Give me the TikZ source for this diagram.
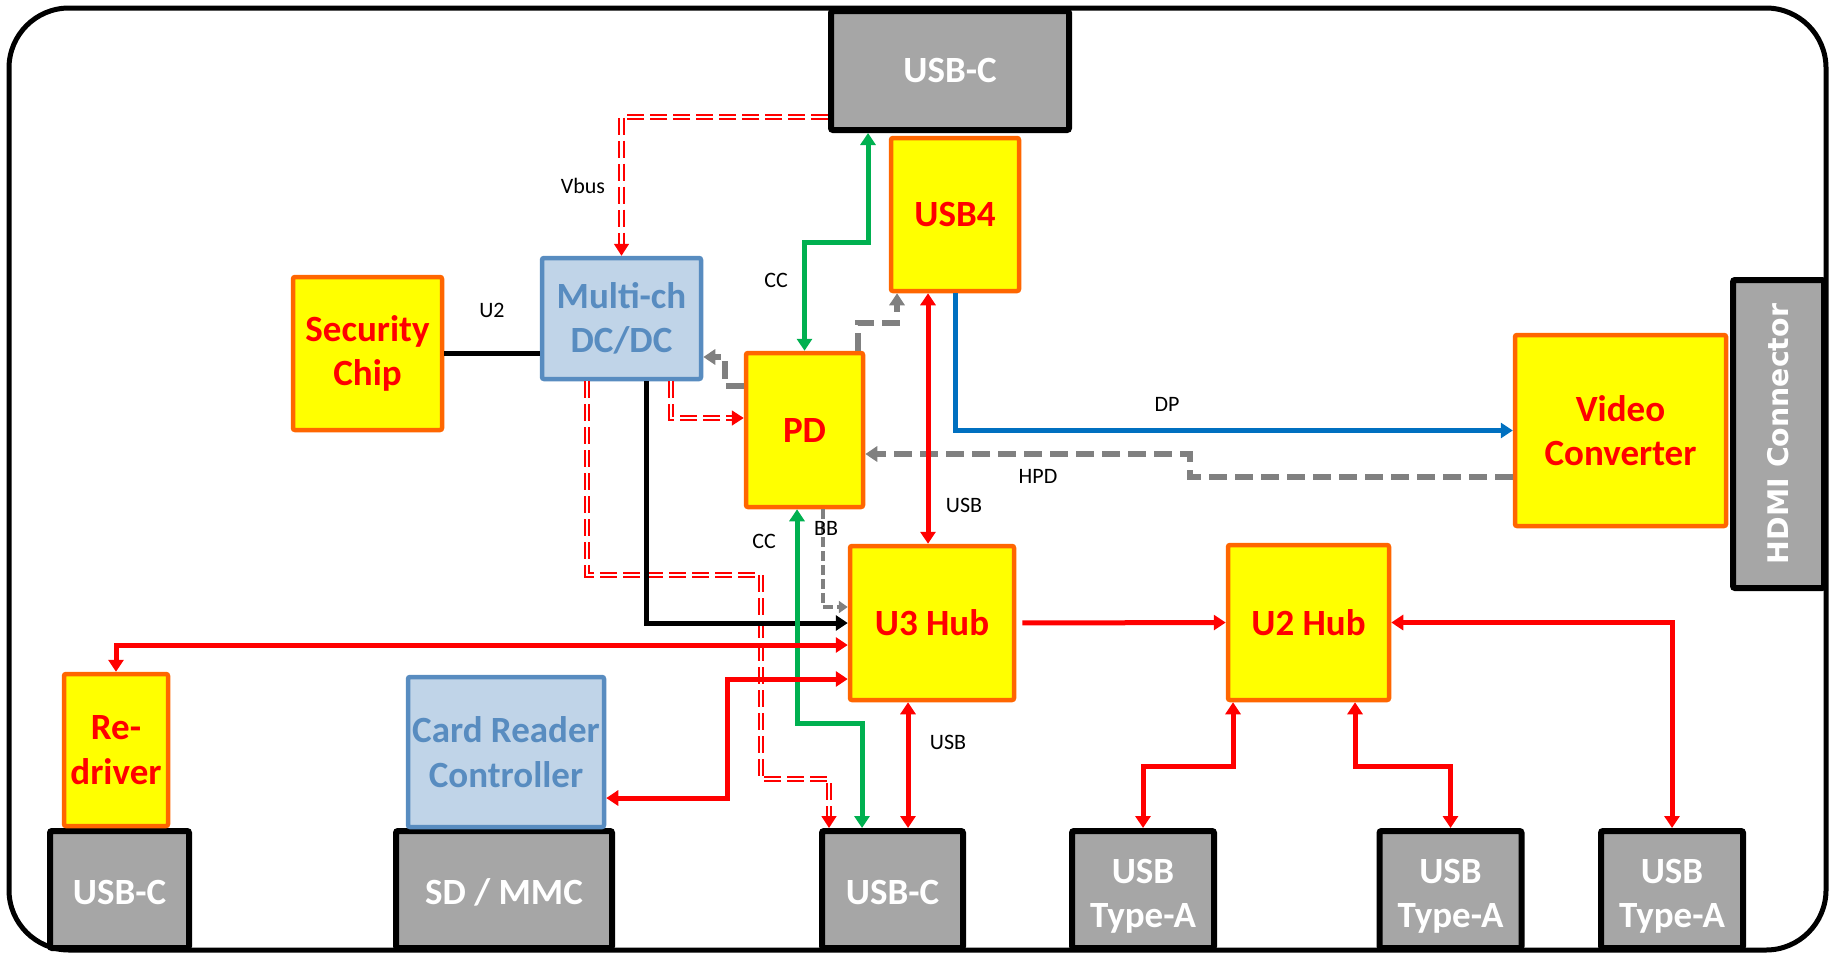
\documentclass[tikz,border=0pt]{standalone}
\usepackage{fontspec}
\setmainfont{Carlito}
\newfontfamily\hdmifont{DejaVu Sans}
\usetikzlibrary{arrows.meta}
\definecolor{chipfill}{RGB}{255,255,0}
\definecolor{chipedge}{RGB}{255,102,0}
\definecolor{ctrlfill}{RGB}{192,212,232}
\definecolor{ctrledge}{RGB}{88,140,192}
\definecolor{portfill}{RGB}{166,166,166}
\definecolor{ccgreen}{RGB}{0,176,80}
\definecolor{dpblue}{RGB}{0,112,192}
\definecolor{hpdgray}{RGB}{128,128,128}
\begin{document}
\begin{tikzpicture}[
    x=1pt, y=-1pt,
    >={Triangle[length=12pt,width=15pt]},
    boxfont/.style={font=\bfseries\fontsize{37}{44.5}\selectfont},
    chip/.style={draw=chipedge, fill=chipfill, line width=4.5pt, rounded corners=2pt, text=red, boxfont, align=center, inner sep=0pt},
    ctrl/.style={draw=ctrledge, fill=ctrlfill, line width=4.5pt, rounded corners=2pt, text=ctrledge, boxfont, align=center, inner sep=0pt},
    port/.style={draw=black, fill=portfill, line width=6pt, rounded corners=2pt, text=white, boxfont, align=center, inner sep=0pt},
    lowport/.style={port, execute at begin node={\rule{0pt}{31pt}}},
    lbl/.style={font=\fontsize{22}{26}\selectfont, inner sep=1pt},
    usb/.style={draw=red, line width=5pt},
    cc/.style={draw=ccgreen, line width=5pt},
    dp/.style={draw=dpblue, line width=5pt},
    wire/.style={draw=black, line width=5pt},
    pwr/.style={draw=red, line width=1.8pt, double=white, double distance=2.5pt, dash pattern=on 17pt off 6pt},
    hpd/.style={draw=hpdgray, line width=5.5pt, dash pattern=on 18pt off 8pt},
    bb/.style={draw=hpdgray, line width=3.5pt, dash pattern=on 10pt off 4pt, >={Triangle[length=9pt,width=12pt]}}
]
    \useasboundingbox (0,0) rectangle (1835,953);

    % Board outline
    \draw[line width=5pt, rounded corners=60pt] (9,8) rectangle (1826,950);

    % Connectors
    \node[port, minimum width=238, minimum height=119] (usbcTop) at (950,70.5) {USB-C};
    \node[port, rotate=90, minimum width=308, minimum height=91, text=white,
          font=\hdmifont\bfseries\fontsize{28.4}{32}\selectfont] (hdmi) at (1778.5,434) {HDMI Connector};
    \node[lowport, minimum width=139, minimum height=117] (usbcL) at (119.5,889.5) {USB-C};
    \node[lowport, minimum width=216, minimum height=117] (sd) at (504,889.5) {SD / MMC};
    \node[lowport, minimum width=141, minimum height=117] (usbcM) at (892.5,889.5) {USB-C};
    \foreach \n/\x in {ta1/1143,ta2/1450.5,ta3/1672}
        \node[port, minimum width=142, minimum height=117] (\n) at (\x,889.5) {\rule{0pt}{38pt}USB\\Type-A};

    % Chips
    \node[chip, minimum width=128, minimum height=153] (usb4) at (955,214.5) {USB4};
    \node[chip, minimum width=149, minimum height=153] (sec) at (367.5,353.5) {Security\\Chip};
    \node[ctrl, minimum width=159, minimum height=121] (dcdc) at (621.5,318.5) {Multi-ch\\DC/DC};
    \node[chip, minimum width=117, minimum height=154] (pd) at (804.5,430) {PD};
    \node[chip, minimum width=211, minimum height=191] (vc) at (1620.5,430.5) {Video\\Converter};
    \node[chip, minimum width=164, minimum height=154] (u3) at (932,623) {U3 Hub};
    \node[chip, minimum width=161, minimum height=155] (u2) at (1308.5,622.5) {U2 Hub};
    \node[chip, minimum width=104, minimum height=152] (redrv) at (116,750) {Re-\\driver};
    \node[ctrl, minimum width=196, minimum height=150] (card) at (506,752) {Card Reader\\Controller};

    % Power paths
    \draw[pwr, ->] (usbcTop.west |- 0,117) -| (dcdc.north);
    \draw[pwr, ->] (dcdc.south -| 671,0) |- (pd.west |- 0,418);
    \draw[pwr, ->] (dcdc.south -| 587,0) |- (761,575) |- (829,779) -- (usbcM.north -| 829,0);
    \draw[wire] (sec.east) -- (sec.east -| dcdc.west);
    \draw[wire, ->] (dcdc.south -| 646,0) |- (u3.west);

    % CC and sideband
    \draw[cc, <->] (pd.north) |- (868,242) -- (usbcTop.south -| 868,0);
    \draw[cc, <->] (pd.south -| 797,0) |- (862,723) -- (usbcM.north -| 862,0);
    \draw[hpd, ->] (pd.north -| 858,0) |- (897,323) -- (usb4.south -| 897,0);
    \draw[hpd, ->] (pd.west |- 0,386) -| (725,357) -- (dcdc.east |- 0,357);
    \draw[hpd, ->] (vc.west |- 0,477) -| (1190,454) -- (pd.east |- 0,454);
    \draw[bb, ->] (pd.south -| 823,0) |- (u3.west |- 0,607);

    % Data paths
    \draw[dp, ->] (usb4.south) |- (vc.west);
    \draw[usb, <->] (usb4.south -| 928,0) -- (u3.north -| 928,0);
    \draw[usb, <->] (u3.west |- 0,645) -| (redrv.north);
    \draw[usb, <->] (u3.west |- 0,679) -| (727,798) -- (card.east |- 0,798);
    \draw[usb, <->] (u3.south -| 908,0) -- (usbcM.north -| 908,0);
    \draw[usb, ->, shorten <=6pt] (u3.east) -- (u2.west);
    \draw[usb, <->] (u2.east) -| (ta3.north);
    \draw[usb, <->] (u2.south -| 1233,0) -- (1233,766) -| (ta1.north);
    \draw[usb, <->] (u2.south -| 1355,0) -- (1355,766) -| (ta2.north);

    % Labels
    \node[lbl] (vbusLbl) at (583,186) {Vbus};
    \node[lbl] (ccTopLbl) at (776,280) {CC};
    \node[lbl] (u2Lbl) at (492,310) {U2};
    \node[lbl] (dpLbl) at (1167,404) {DP};
    \node[lbl] (hpdLbl) at (1038,476) {HPD};
    \node[lbl] (usbTopLbl) at (964,505) {USB};
    \node[lbl] (ccBotLbl) at (764,541) {CC};
    \node[lbl] (bbLbl) at (826,528) {BB};
    \node[lbl] (usbBotLbl) at (948,742) {USB};
\end{tikzpicture}
\end{document}
